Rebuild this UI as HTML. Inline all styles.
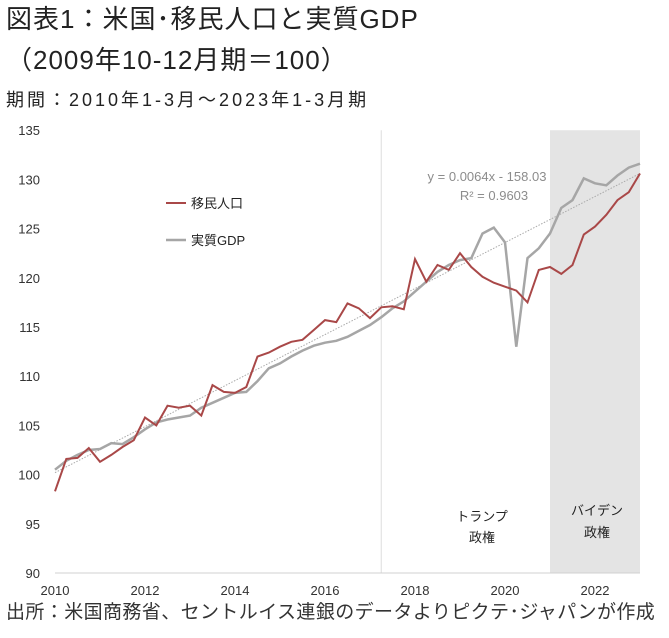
<!DOCTYPE html>
<html><head><meta charset="utf-8"><style>
body{margin:0;background:#fff;width:669px;height:638px;overflow:hidden;font-family:"Liberation Sans","Noto Sans CJK JP",sans-serif}
.t{position:absolute;left:6px;color:#222;white-space:nowrap}
</style></head><body>
<div class="t" style="top:3px;font-size:26px;line-height:32px;letter-spacing:1px">図表1：米国･移民人口と実質GDP</div>
<div class="t" style="top:44px;font-size:26px;line-height:32px;letter-spacing:1px">（2009年10-12月期＝100）</div>
<div class="t" style="top:88px;font-size:18px;line-height:24px;letter-spacing:3px">期間：2010年1-3月～2023年1-3月期</div>
<div class="t" style="top:600px;font-size:19px;line-height:26px;color:#333;letter-spacing:0.4px">出所：米国商務省、セントルイス連銀のデータよりピクテ･ジャパンが作成</div>
<svg id="c" width="669" height="638" style="position:absolute;left:0;top:0"></svg>
<script>
const years=[2010,2012,2014,2016,2018,2020,2022];
const yTicks=[90,95,100,105,110,115,120,125,130,135];
const immigrant=[98.3,101.6,101.7,102.7,101.3,102.0,102.8,103.5,105.8,105.0,107.0,106.8,107.0,106.0,109.1,108.4,108.3,108.9,112.0,112.4,113.0,113.5,113.7,114.7,115.7,115.5,117.4,116.9,115.9,117.0,117.1,116.8,121.9,119.6,121.3,120.8,122.5,121.1,120.1,119.5,119.1,118.7,117.5,120.8,121.1,120.4,121.3,124.4,125.2,126.4,127.9,128.7,130.6];
const gdp=[100.5,101.4,102.0,102.5,102.6,103.2,103.1,103.8,104.6,105.3,105.6,105.8,106.0,106.8,107.3,107.8,108.3,108.4,109.5,110.8,111.3,112.0,112.6,113.1,113.4,113.6,114.0,114.6,115.2,116.0,116.9,117.6,118.6,119.6,120.6,121.3,121.8,122.0,124.5,125.1,123.6,113.0,122.0,123.0,124.5,127.1,127.9,130.1,129.6,129.4,130.4,131.2,131.6];
const trumpStart=2017.25, bidenStart=2021.0;
const X0=55,PX_YEAR=45,Y0=573,PX_UNIT=9.84;
const xs=t=>X0+(t-2010)*PX_YEAR;
const ys=v=>Y0-(v-90)*PX_UNIT;
const qx=i=>xs(2010+i/4);
const NS='http://www.w3.org/2000/svg';
const svg=document.getElementById('c');
function mk(tag,at,txt){const e=document.createElementNS(NS,tag);for(const k in at)e.setAttribute(k,at[k]);if(txt!=null)e.textContent=txt;svg.appendChild(e);return e;}
const xEnd=xs(2023);
let e=mk('rect',{x:xs(bidenStart),y:ys(135),width:xEnd-xs(bidenStart),height:Y0-ys(135),fill:'#e4e4e4'});


e=mk('line',{x1:xs(trumpStart),x2:xs(trumpStart),y1:ys(135),y2:Y0,stroke:'#ddd','stroke-width':1});


e=mk('line',{x1:X0,x2:xEnd,y1:Y0,y2:Y0,stroke:'#d0d0d0','stroke-width':1});


yTicks.forEach(v=>{e=mk('text',{x:40,y:ys(v)+5,'text-anchor':'end','font-size':13,fill:'#333'},v);

});
years.forEach(y=>{e=mk('text',{x:xs(y),y:595,'text-anchor':'middle','font-size':13,fill:'#333'},y);

});
e=mk('line',{x1:qx(0),y1:ys(100.2),x2:qx(52),y2:ys(130.6),stroke:'#aaa','stroke-width':1,'stroke-dasharray':'1.5,1.5'});


function pts(a){return a.map((v,i)=>qx(i).toFixed(1)+','+ys(v).toFixed(1)).join(' ');}
e=mk('polyline',{points:pts(gdp),fill:'none',stroke:'#a6a6a6','stroke-width':2.5});


e=mk('polyline',{points:pts(immigrant),fill:'none',stroke:'#a94848','stroke-width':2});


e=mk('text',{x:487,y:181,'text-anchor':'middle','font-size':13,fill:'#8c8c8c'},'y = 0.0064x - 158.03');


e=mk('text',{x:494,y:200,'text-anchor':'middle','font-size':13,fill:'#8c8c8c'},'R² = 0.9603');


e=mk('line',{x1:166,x2:186,y1:203,y2:203,stroke:'#a94848','stroke-width':2});


e=mk('text',{x:191,y:208,'font-size':13,fill:'#222'},'移民人口');


e=mk('line',{x1:166,x2:186,y1:240,y2:240,stroke:'#a6a6a6','stroke-width':2.5});


e=mk('text',{x:191,y:245,'font-size':13,fill:'#222'},'実質GDP');


e=mk('text',{x:482,y:521,'text-anchor':'middle','font-size':13,fill:'#222'},'トランプ');


e=mk('text',{x:482,y:542,'text-anchor':'middle','font-size':13,fill:'#222'},'政権');


e=mk('text',{x:597,y:515,'text-anchor':'middle','font-size':13,fill:'#222'},'バイデン');


e=mk('text',{x:597,y:537,'text-anchor':'middle','font-size':13,fill:'#222'},'政権');


</script>
</body></html>
